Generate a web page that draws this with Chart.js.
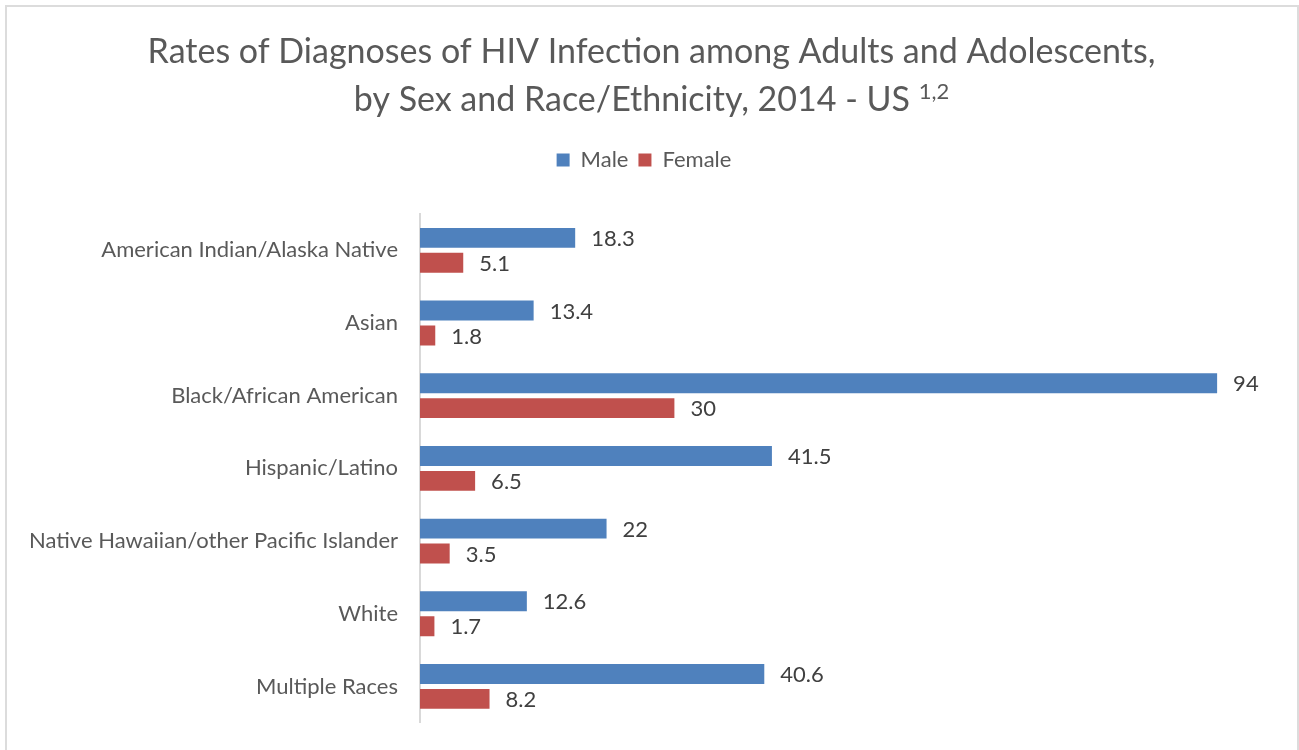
<!DOCTYPE html>
<html>
<head>
<meta charset="utf-8">
<script src="https://cdn.jsdelivr.net/npm/chart.js@4.4.1/dist/chart.umd.min.js"></script>
<style>
  html,body{margin:0;padding:0;background:#fff;overflow:hidden;}
  #wrap{position:relative;width:1299px;height:750px;}
  #frame{position:absolute;left:5px;top:5px;width:1294px;height:760px;border:2px solid #dcdcdc;box-sizing:border-box;pointer-events:none;}
</style>
</head>
<body>
<div id="wrap">
  <canvas id="chart" width="1299" height="750"></canvas>
  <div id="frame"></div>
</div>
<script>
// data
const categories = [
  "American Indian/Alaska Native",
  "Asian",
  "Black/African American",
  "Hispanic/Latino",
  "Native Hawaiian/other Pacific Islander",
  "White",
  "Multiple Races"
];
const maleRates = [18.3, 13.4, 94, 41.5, 22, 12.6, 40.6];
const femaleRates = [5.1, 1.8, 30, 6.5, 3.5, 1.7, 8.2];
const titleLine1 = "Rates of Diagnoses of HIV Infection among Adults and Adolescents,";
const titleLine2 = "by Sex and Race/Ethnicity, 2014 - US ";
const titleSup = "1,2";

const FONT = "Lato, 'Noto Sans', sans-serif";

// title with a raised "1,2" footnote mark
const titleDraw = {
  id:"titleDraw",
  afterDraw(chart){
    const ctx = chart.ctx;
    const cx = chart.width/2 + 2;
    ctx.save();
    ctx.fillStyle = "#595959";
    ctx.textBaseline = "middle";
    ctx.font = "34px " + FONT;
    ctx.textAlign = "center";
    ctx.fillText(titleLine1, cx, 52);
    const w2 = ctx.measureText(titleLine2).width;
    ctx.font = "22px " + FONT;
    const ws = ctx.measureText(titleSup).width;
    const x0 = cx - (w2 + ws)/2;
    ctx.textAlign = "left";
    ctx.font = "34px " + FONT;
    ctx.fillText(titleLine2, x0, 100);
    ctx.font = "22px " + FONT;
    ctx.fillText(titleSup, x0 + w2, 92);
    ctx.restore();
  }
};

// value labels at the end of each bar
const barLabels = {
  id:"barLabels",
  afterDatasetsDraw(chart){
    const ctx = chart.ctx;
    ctx.save();
    ctx.font = "22px " + FONT;
    ctx.fillStyle = "#404040";
    ctx.textAlign = "left";
    ctx.textBaseline = "middle";
    chart.data.datasets.forEach((ds,i)=>{
      chart.getDatasetMeta(i).data.forEach((bar,j)=>{
        ctx.fillText(String(ds.data[j]), bar.x + 16, bar.y + 1);
      });
    });
    ctx.restore();
  }
};

new Chart(document.getElementById("chart"),{
  type:"bar",
  data:{
    labels:categories,
    datasets:[
      {label:"Male", data:maleRates, backgroundColor:"#4F81BD"},
      {label:"Female", data:femaleRates, backgroundColor:"#C0504D"}
    ]
  },
  options:{
    indexAxis:"y",
    responsive:false,
    animation:false,
    events:[],
    categoryPercentage:0.685,
    barPercentage:0.8,
    layout:{padding:{left:20,right:31,top:139,bottom:16}},
    plugins:{
      title:{display:false},
      legend:{
        position:"top",
        labels:{
          color:"#595959",
          font:{family:FONT,size:22},
          boxWidth:13,
          boxHeight:13,
          padding:10
        }
      },
      tooltip:{enabled:false}
    },
    scales:{
      x:{
        position:"top",
        min:0,
        max:100,
        ticks:{display:false},
        grid:{display:false},
        border:{display:false},
        afterFit(s){ s.height = 33; }
      },
      y:{
        grid:{display:false},
        border:{display:true,color:"#d9d9d9",width:2},
        ticks:{color:"#595959",font:{family:FONT,size:22},padding:14},
        afterFit(s){ s.width = 400; }
      }
    }
  },
  plugins:[barLabels, titleDraw]
});
</script>
</body>
</html>
